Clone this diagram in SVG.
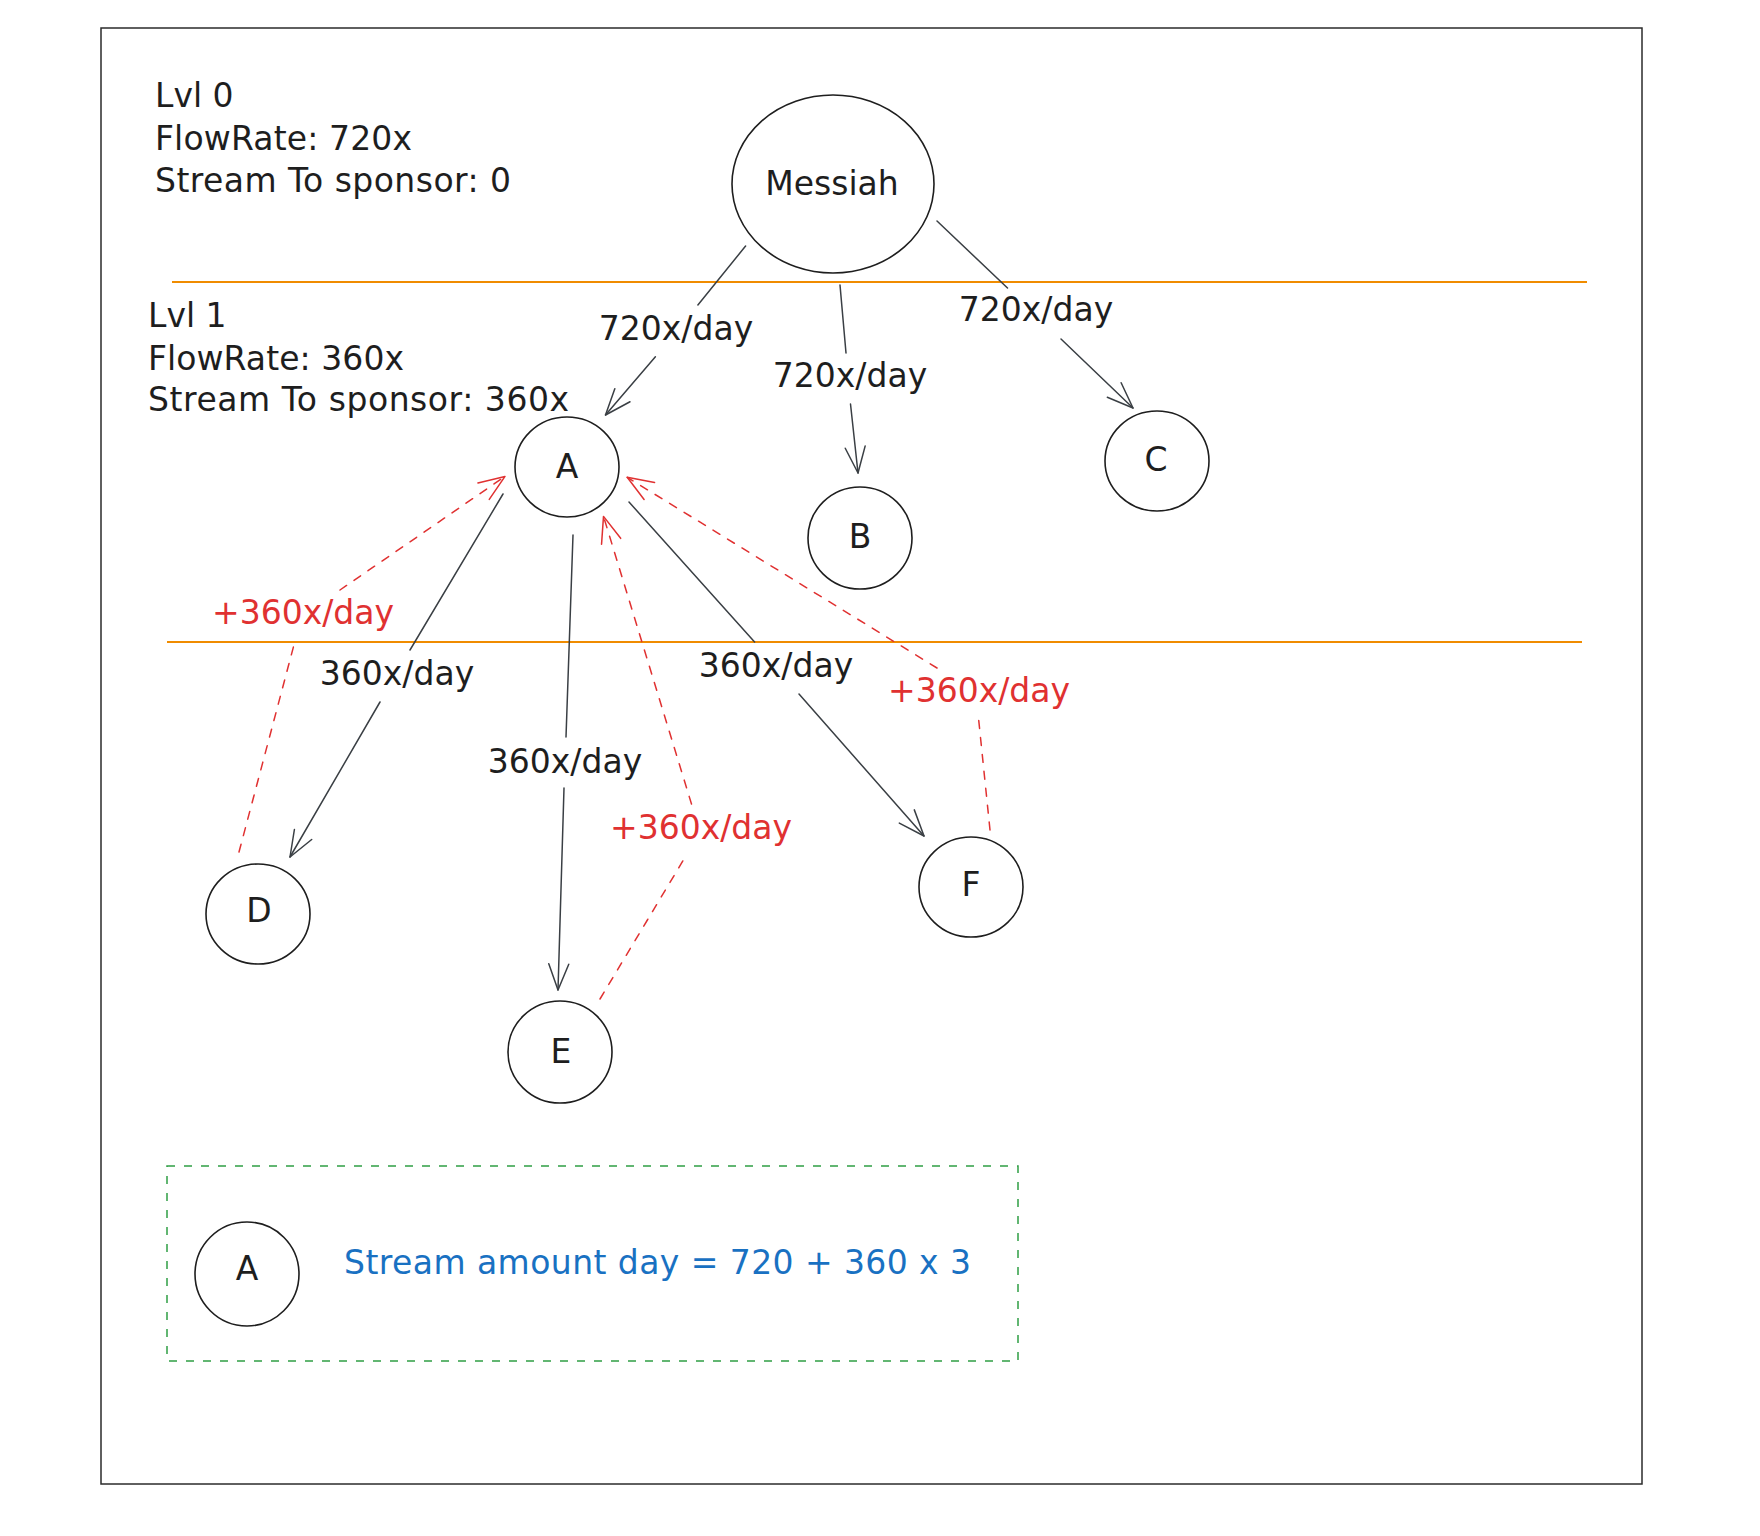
<svg xmlns="http://www.w3.org/2000/svg" width="1760" height="1536" viewBox="0 0 1760 1536">
<style>
text { font-family: "DejaVu Sans", "Liberation Sans", sans-serif; font-size: 33px; fill: #1e1e1e; }
.red { fill: #e03131; }
.blue { fill: #1971c2; }
.mid { text-anchor: middle; }
.node ellipse { fill: none; stroke: #1e1e1e; stroke-width: 1.6; }
.edge { fill: none; stroke: #3a3f44; stroke-width: 1.5; stroke-linecap: round; }
.dash { fill: none; stroke: #e03131; stroke-width: 1.5; stroke-dasharray: 8 9; stroke-linecap: round; }
.lvl { stroke: #f08c00; stroke-width: 2; }
</style>
<defs>
<marker id="ah" markerUnits="userSpaceOnUse" markerWidth="40" markerHeight="30" viewBox="-32 -15 40 30" refX="0" refY="0" orient="auto">
<path d="M -26 -10 L 0 0 L -26 10" fill="none" stroke="#3a3f44" stroke-width="1.5" stroke-linecap="round" stroke-linejoin="round"/>
</marker>
<marker id="ahr" markerUnits="userSpaceOnUse" markerWidth="40" markerHeight="30" viewBox="-32 -15 40 30" refX="0" refY="0" orient="auto">
<path d="M -26 -10 L 0 0 L -26 10" fill="none" stroke="#e03131" stroke-width="1.5" stroke-linecap="round" stroke-linejoin="round"/>
</marker>
</defs>
<rect x="0" y="0" width="1760" height="1536" fill="#ffffff"/>
<rect x="101" y="28" width="1541" height="1456" fill="none" stroke="#2b2b2b" stroke-width="1.5"/>

<g id="level-lines">
<line class="lvl" x1="172" y1="282" x2="1587" y2="282"/>
<line class="lvl" x1="167" y1="642" x2="1582" y2="642"/>
</g>

<g id="level-0-info">
<text x="155" y="107">Lvl 0</text>
<text x="155" y="150" textLength="257">FlowRate: 720x</text>
<text x="155" y="192" textLength="356">Stream To sponsor: 0</text>
</g>
<g id="level-1-info">
<text x="148" y="327">Lvl 1</text>
<text x="148" y="370" textLength="256">FlowRate: 360x</text>
<text x="148" y="411" textLength="421">Stream To sponsor: 360x</text>
</g>

<g id="connectors">
<path class="edge" d="M 745.6 246 L 697.9 305"/>
<path class="edge" d="M 655.4 356.7 L 605.5 415" marker-end="url(#ah)"/>
<path class="edge" d="M 840 285 L 846 353"/>
<path class="edge" d="M 850.5 404 L 858 473" marker-end="url(#ah)"/>
<path class="edge" d="M 937 221 L 1007.5 288"/>
<path class="edge" d="M 1061 339 L 1133 408" marker-end="url(#ah)"/>
<path class="edge" d="M 503 494 L 410 650"/>
<path class="edge" d="M 380 702 L 290 857" marker-end="url(#ah)"/>
<path class="edge" d="M 573 535 L 566 737"/>
<path class="edge" d="M 564 788 L 558 990" marker-end="url(#ah)"/>
<path class="edge" d="M 629 502 L 754.6 642"/>
<path class="edge" d="M 799 694 L 924 836" marker-end="url(#ah)"/>
<path class="dash" d="M 239 852 L 295 641"/>
<path class="dash" d="M 340 590 L 505 476.4" marker-end="url(#ahr)"/>
<path class="dash" d="M 600 999 L 684 859"/>
<path class="dash" d="M 691.5 804 L 603.5 516.4" marker-end="url(#ahr)"/>
<path class="dash" d="M 990 830 L 978.6 719"/>
<path class="dash" d="M 937 668 L 627.2 477.3" marker-end="url(#ahr)"/>
<text class="mid" x="676" y="340">720x/day</text>
<text class="mid" x="850" y="387">720x/day</text>
<text class="mid" x="1036" y="321">720x/day</text>
<text class="mid" x="397" y="685">360x/day</text>
<text class="mid" x="565" y="773">360x/day</text>
<text class="mid" x="776" y="677">360x/day</text>
<text class="mid red" x="303" y="624">+360x/day</text>
<text class="mid red" x="701" y="839">+360x/day</text>
<text class="mid red" x="979" y="702">+360x/day</text>
</g>

<g id="node-messiah" class="node">
<ellipse cx="833" cy="184" rx="101" ry="89"/>
<text class="mid" x="832" y="195">Messiah</text>
</g>
<g id="node-a" class="node">
<ellipse cx="567" cy="467" rx="52" ry="50"/>
<text class="mid" x="567" y="478">A</text>
</g>
<g id="node-b" class="node">
<ellipse cx="860" cy="538" rx="52" ry="51"/>
<text class="mid" x="860" y="548">B</text>
</g>
<g id="node-c" class="node">
<ellipse cx="1157" cy="461" rx="52" ry="50"/>
<text class="mid" x="1156" y="471">C</text>
</g>
<g id="node-d" class="node">
<ellipse cx="258" cy="914" rx="52" ry="50"/>
<text class="mid" x="259" y="922">D</text>
</g>
<g id="node-e" class="node">
<ellipse cx="560" cy="1052" rx="52" ry="51"/>
<text class="mid" x="561" y="1063">E</text>
</g>
<g id="node-f" class="node">
<ellipse cx="971" cy="887" rx="52" ry="50"/>
<text class="mid" x="971" y="896">F</text>
</g>

<g id="legend">
<rect x="167" y="1166" width="851" height="195" fill="none" stroke="#2f9e44" stroke-width="1.5" stroke-dasharray="8 9"/>
<g id="legend-node-a" class="node">
<ellipse cx="247" cy="1274" rx="52" ry="52"/>
<text class="mid" x="247" y="1280">A</text>
</g>
<text class="blue" x="344" y="1274" textLength="627">Stream amount day = 720 + 360 x 3</text>
</g>
</svg>
